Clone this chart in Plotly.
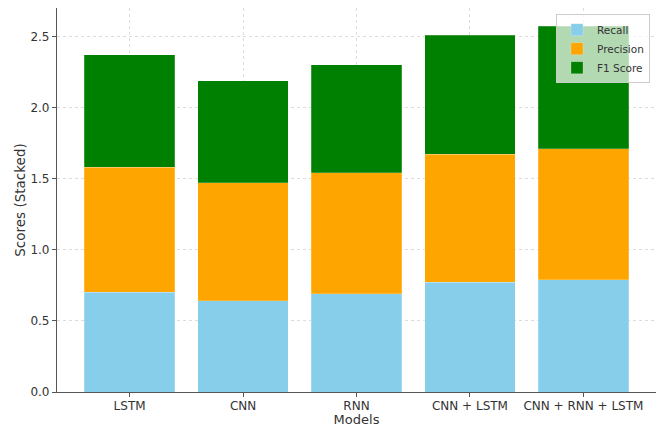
import plotly.graph_objects as go

models = ["LSTM", "CNN", "RNN", "CNN + LSTM", "CNN + RNN + LSTM"]
recall = [0.70, 0.64, 0.69, 0.77, 0.79]
precision = [0.88, 0.83, 0.85, 0.90, 0.92]
f1_score = [0.79, 0.72, 0.76, 0.84, 0.86]

series = [("Recall", recall, "#87CEEB"), ("Precision", precision, "#FFA500"), ("F1 Score", f1_score, "#008000")]

fig = go.Figure()
for name, vals, color in series:
    fig.add_trace(go.Bar(x=models, y=vals, name=name, marker=dict(color=color, line=dict(width=0.6, color="rgba(255,255,255,0.35)"))))

font = "DejaVu Sans, sans-serif"
fig.update_layout(
    width=661, height=427,
    barmode="stack", bargap=0.2,
    plot_bgcolor="white", paper_bgcolor="white",
    margin=dict(l=57, r=5, t=8, b=35),
    font=dict(family=font, size=12, color="#333333"),
    legend=dict(x=0.99, y=0.984, xanchor="right", yanchor="top", bgcolor="rgba(255,255,255,0.7)",
                bordercolor="#cccccc", borderwidth=1, font=dict(size=10.5), traceorder="normal",
                tracegroupgap=0, itemwidth=30),
    xaxis=dict(title=dict(text="Models", standoff=4, font=dict(size=13)), range=[-0.64, 4.64], automargin=False,
               showline=True, linecolor="#555555", linewidth=1.2, ticks="outside", ticklen=4, tickcolor="#555555",
               ticklabelstandoff=-2,
               showgrid=True, gridcolor="#dddddd", griddash="dot", gridwidth=0.8, zeroline=False),
    yaxis=dict(title=dict(text="Scores (Stacked)", standoff=1, font=dict(size=13.5)), range=[0, 2.70], automargin=False,
               tickvals=[0, 0.5, 1.0, 1.5, 2.0, 2.5], tickformat=".1f",
               showline=True, linecolor="#555555", linewidth=1.2, ticks="outside", ticklen=4, tickcolor="#555555",
               showgrid=True, gridcolor="#dddddd", griddash="dot", gridwidth=0.8, zeroline=False),
)
fig.write_html("out.html", config={"displayModeBar": False},
               post_script="document.body.style.margin='0';document.body.style.overflow='hidden';")
